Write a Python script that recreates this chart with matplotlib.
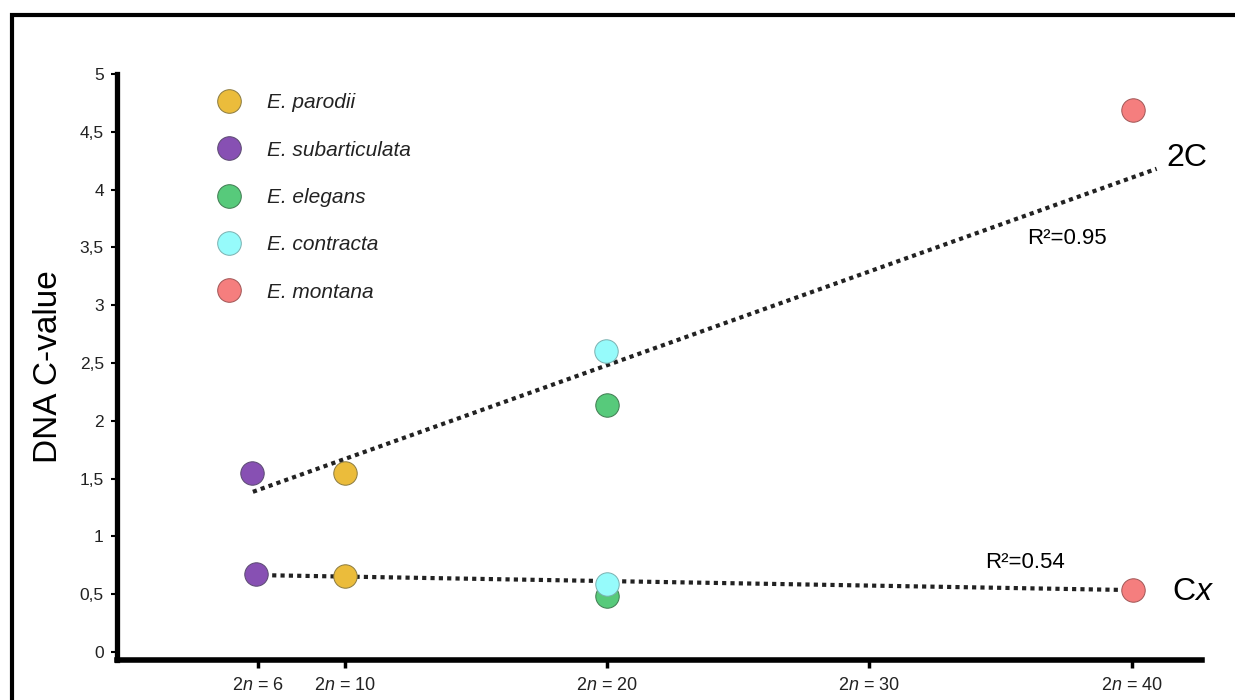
import matplotlib
matplotlib.use("Agg")
import matplotlib.pyplot as plt
from matplotlib.lines import Line2D
from matplotlib.patches import Rectangle

plt.rcParams['font.family'] = ['Liberation Sans', 'DejaVu Sans']
plt.rcParams['mathtext.fontset'] = 'custom'
plt.rcParams['mathtext.rm'] = 'Liberation Sans'
plt.rcParams['mathtext.it'] = 'Liberation Sans:italic'

# data
species = ["E. parodii", "E. subarticulata", "E. elegans", "E. contracta", "E. montana"]
colores = ["#EBBC3B", "#8750B3", "#57CA7B", "#96FBFB", "#F57E7E"]
bordes = ["#8a7a40", "#5a4a70", "#3f7a50", "#7ab0b0", "#a05555"]

x_2c = [10, 6.45, 20, 19.95, 40.05]
x_cx = [10, 6.6, 20, 20, 40.05]
val_2c = [1.55, 1.55, 2.14, 2.60, 4.69]
val_cx = [0.66, 0.67, 0.48, 0.59, 0.535]

# trend lines (endpoints)
trend_2c_x = [6.5, 40.95]
trend_2c_y = [1.385, 4.18]
trend_cx_x = [6.6, 40.0]
trend_cx_y = [0.665, 0.535]

tick_pos = [6.7, 10, 20, 30, 40]
tick_lab = ["2$n$ = 6", "2$n$ = 10", "2$n$ = 20", "2$n$ = 30", "2$n$ = 40"]
y_ticks = [0, 0.5, 1, 1.5, 2, 2.5, 3, 3.5, 4, 4.5, 5]
y_lab = ["0", "0,5", "1", "1,5", "2", "2,5", "3", "3,5", "4", "4,5", "5"]

fig = plt.figure(figsize=(12.35, 7), dpi=100)
ax = fig.add_axes([117/1235, 1-660/700, 1085/1235, 586/700])

ax.plot(trend_2c_x, trend_2c_y, color="#222222", lw=3, ls=(0, (1, 1)), zorder=2)
ax.plot(trend_cx_x, trend_cx_y, color="#222222", lw=3, ls=(0, (1, 1)), zorder=2)

for i in range(len(species)):
    ax.scatter(x_2c[i], val_2c[i], s=285, c=colores[i], edgecolors=bordes[i], linewidths=0.7, zorder=3)
    ax.scatter(x_cx[i], val_cx[i], s=285, c=colores[i], edgecolors=bordes[i], linewidths=0.7, zorder=3)

ax.set_xlim(1.32, 42.68)
ax.set_ylim(-0.07, 5.0)

for s in ["top", "right"]:
    ax.spines[s].set_visible(False)
ax.spines["left"].set_linewidth(3.8)
ax.spines["bottom"].set_linewidth(4)

ax.set_xticks(tick_pos)
ax.set_xticklabels(tick_lab, fontsize=13, color="#222222")
ax.set_yticks(y_ticks)
ax.set_yticklabels(y_lab, fontsize=12.5, color="#222222")
ax.tick_params(axis="x", length=6, width=2.5, pad=6, direction="out")
ax.tick_params(axis="y", length=4.5, width=1.5, pad=5, direction="out")

ax.set_ylabel("DNA C-value", fontsize=24, labelpad=11)

ax.text(42.1, 4.27, "2C", fontsize=23, va="center", ha="center", clip_on=False)
ax.text(41.55, 0.52, "C$x$", fontsize=23, va="center", ha="left", clip_on=False)
ax.text(36.0, 3.575, "R²=0.95", fontsize=16, va="center", ha="left")
ax.text(34.4, 0.77, "R²=0.54", fontsize=16, va="center", ha="left")

handles = [Line2D([], [], marker="o", ls="", markersize=17, markerfacecolor=colores[i],
                  markeredgecolor=bordes[i], markeredgewidth=0.7) for i in range(len(species))]
leg = ax.legend(handles, species, loc="upper left", bbox_to_anchor=(0.0825, 0.985),
                frameon=False, borderpad=0, handlelength=1.2, handletextpad=1.21,
                labelspacing=1.36, prop={"size": 15, "style": "italic"})
for t in leg.get_texts():
    t.set_color("#222222")

fig.patches.append(Rectangle((12/1235, -0.2), 1.5, 0.2 + 1 - 14.5/700, transform=fig.transFigure,
                             fill=False, edgecolor="black", linewidth=3))

fig.savefig("out.png", dpi=100)
